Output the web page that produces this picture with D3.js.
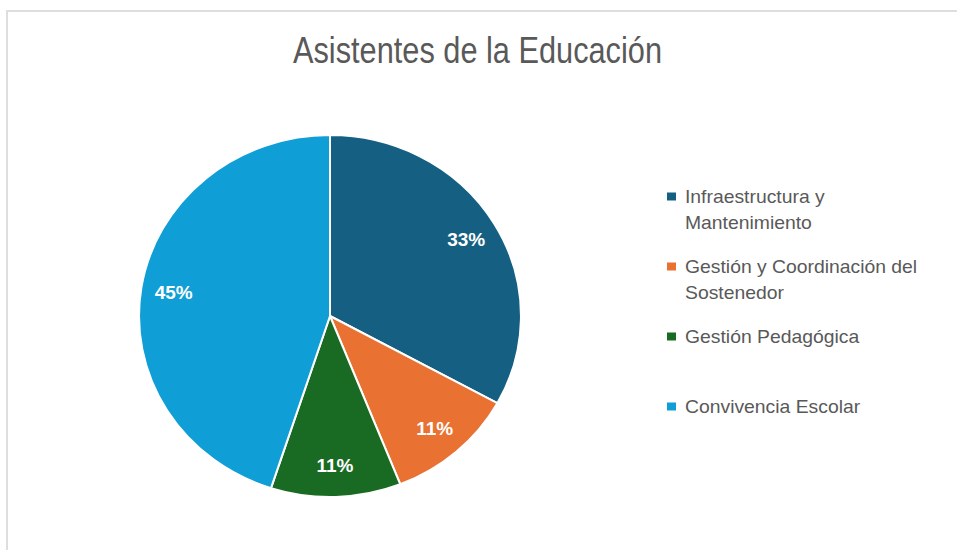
<!DOCTYPE html>
<html>
<head>
<meta charset="utf-8">
<script src="https://cdn.jsdelivr.net/npm/d3@7"></script>
<style>
  body { margin: 0; background: #fff; }
  svg { display: block; }
</style>
</head>
<body>
<div id="chart-container"></div>
<script>
const width = 957;
const height = 550;

// data
const title = "Asistentes de la Educación";
const categories = ["Infraestructura y Mantenimiento", "Gestión y Coordinación del Sostenedor", "Gestión Pedagógica", "Convivencia Escolar"];
const values = [33, 11, 11, 45];
const colors = ["#156082", "#E97132", "#196B24", "#0F9ED5"];

const cx = 330, cy = 316;
const radius = 181;
const sx = 1.055; // picture is a little stretched sideways
const labelR = 150;

const svg = d3.select("#chart-container").append("svg")
  .attr("width", width)
  .attr("height", height);

// chart frame (cut by the window on right and bottom)
svg.append("rect")
  .attr("x", 7).attr("y", 11)
  .attr("width", width + 20).attr("height", height + 20)
  .attr("fill", "#fff")
  .attr("stroke", "#dedede")
  .attr("stroke-width", 2);

// title
let t = svg.append("text")
  .attr("x", 293).attr("y", 63)
  .attr("font-family", "Liberation Sans, Arial, sans-serif")
  .attr("font-size", 36)
  .attr("fill", "#595959")
  .text(title);
t.attr("textLength", 369).attr("lengthAdjust", "spacingAndGlyphs");

// pie
const pie = d3.pie().sort(null).value(d => d.v);
const arc = d3.arc().innerRadius(0).outerRadius(radius);
const labelArc = d3.arc().innerRadius(labelR).outerRadius(labelR);
const arcs = pie(values.map((v, i) => ({ v: v, c: colors[i], name: categories[i] })));

let g = svg.append("g")
  .attr("transform", `translate(${cx},${cy}) scale(${sx},1)`);

g.selectAll("path")
  .data(arcs)
  .enter().append("path")
  .attr("d", arc)
  .attr("fill", d => d.data.c)
  .attr("stroke", "#fff")
  .attr("stroke-width", 2)
  .attr("vector-effect", "non-scaling-stroke");

svg.append("g").selectAll("text")
  .data(arcs)
  .enter().append("text")
  .attr("transform", d => {
    const c = labelArc.centroid(d);
    return `translate(${cx + c[0] * sx},${cy + c[1]}) scale(${sx},1)`;
  })
  .attr("text-anchor", "middle")
  .attr("dy", "0.36em")
  .attr("font-family", "Liberation Sans, Arial, sans-serif")
  .attr("font-size", 18)
  .attr("font-weight", "bold")
  .attr("fill", "#fff")
  .text(d => d.data.v + "%");

// legend
const ly = d3.scalePoint().domain(categories).range([197, 407]);
const gLegend = svg.append("g");
const wrapWidth = 225;

categories.forEach((name, i) => {
  const y = ly(name);
  gLegend.append("rect")
    .attr("x", 667).attr("y", y - 4.5)
    .attr("width", 9).attr("height", 8)
    .attr("fill", colors[i]);

  const txt = gLegend.append("text")
    .attr("transform", `translate(685,${y}) scale(1.075,1)`)
    .attr("font-family", "Liberation Sans, Arial, sans-serif")
    .attr("font-size", 18)
    .attr("fill", "#595959");

  // simple word wrap
  const words = name.split(" ");
  let line = [];
  let lineNo = 0;
  let tspan = txt.append("tspan").attr("x", 0).attr("dy", "0.36em");
  words.forEach(w => {
    line.push(w);
    tspan.text(line.join(" "));
    if (tspan.node().getComputedTextLength() > wrapWidth && line.length > 1) {
      line.pop();
      tspan.text(line.join(" "));
      line = [w];
      lineNo++;
      tspan = txt.append("tspan").attr("x", 0).attr("dy", 26).text(w);
    }
  });
});
</script>
</body>
</html>
